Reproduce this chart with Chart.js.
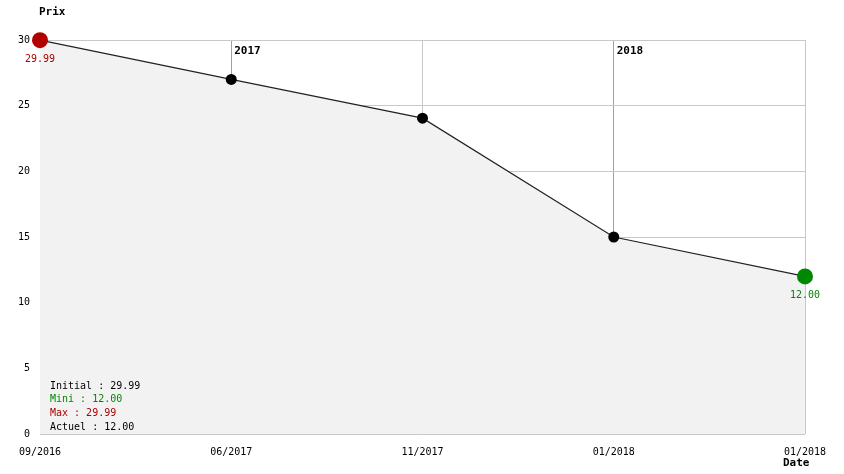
<!DOCTYPE html>
<html>
<head>
<meta charset="utf-8">
<script src="https://cdn.jsdelivr.net/npm/chart.js@4/dist/chart.umd.min.js"></script>
<style>
  html, body { margin: 0; padding: 0; background: #fff; }
  #wrap { width: 844px; height: 474px; }
</style>
</head>
<body>
<div id="wrap"><canvas id="myChart"></canvas></div>
<script>
// price history
const dates = ['09/2016', '06/2017', '11/2017', '01/2018', '01/2018'];
const prices = [29.99, 27, 24.05, 15, 12.00];
const yearMarks = [null, '2017', null, '2018', null]; // year change markers
const yTicks = [0, 5, 10, 15, 20, 25, 30];
const summary = [
  ['Initial : 29.99', '#000000'],
  ['Mini : 12.00', '#008800'],
  ['Max : 29.99', '#b00000'],
  ['Actuel : 12.00', '#000000']
];

const FONT = '"DejaVu Sans Mono", "Liberation Mono", monospace';
const lastIdx = prices.length - 1;

// extra texts: axis titles, year labels, point values, summary box
const extras = {
  id: 'extras',
  afterDatasetsDraw(chart) {
    const c = chart.ctx;
    const xs = chart.scales.x, ys = chart.scales.y;
    const area = chart.chartArea;
    c.save();
    c.textBaseline = 'middle';

    c.font = 'bold 11px ' + FONT;
    c.fillStyle = '#000';
    c.textAlign = 'left';
    c.fillText('Prix', 39, 12);
    c.fillText('Date', 783, 463);

    yearMarks.forEach(function (y, i) {
      if (!y) return;
      c.fillText(y, xs.getPixelForValue(i) + 3, area.top + 11);
    });

    c.font = '10px ' + FONT;
    c.textAlign = 'center';
    c.fillStyle = '#b00000';
    c.fillText(prices[0].toFixed(2), xs.getPixelForValue(0), ys.getPixelForValue(prices[0]) + 19);
    c.fillStyle = '#008800';
    c.fillText(prices[lastIdx].toFixed(2), xs.getPixelForValue(lastIdx), ys.getPixelForValue(prices[lastIdx]) + 19);

    c.textAlign = 'left';
    summary.forEach(function (s, i) {
      c.fillStyle = s[1];
      c.fillText(s[0], area.left + 10, area.bottom - 48 + i * 13.7);
    });
    c.restore();
  }
};

const config = {
  type: 'line',
  data: {
    labels: dates,
    datasets: [{
      data: prices,
      borderColor: '#222222',
      borderWidth: 1.2,
      backgroundColor: '#f2f2f2',
      fill: 'origin',
      tension: 0,
      clip: false,
      pointRadius: function (ctx) { return (ctx.dataIndex === 0 || ctx.dataIndex === lastIdx) ? 8 : 5.5; },
      pointBackgroundColor: function (ctx) {
        if (ctx.dataIndex === 0) return '#b00000';
        if (ctx.dataIndex === lastIdx) return '#008800';
        return '#000000';
      },
      pointBorderWidth: 0,
      pointHoverRadius: 0
    }]
  },
  options: {
    responsive: true,
    maintainAspectRatio: false,
    animation: false,
    layout: { padding: { top: 40, right: 39, bottom: 0, left: 0 } },
    plugins: {
      legend: { display: false },
      tooltip: { enabled: false },
      filler: { drawTime: 'beforeDatasetsDraw' }
    },
    scales: {
      x: {
        offset: false,
        border: { display: false },
        grid: {
          z: -1,
          drawTicks: false,
          color: function (ctx) {
            if (ctx.index === 1 || ctx.index === 3) return '#a0a0a0';
            return '#c8c8c8';
          }
        },
        ticks: {
          padding: 12,
          maxRotation: 0,
          autoSkip: false,
          color: '#000',
          font: { family: FONT, size: 10 }
        },
        afterFit: function (s) { s.height = 40; }
      },
      y: {
        min: 0,
        max: 30,
        border: { display: false },
        grid: { z: -1, drawTicks: false, color: '#c8c8c8' },
        afterBuildTicks: function (s) { s.ticks = yTicks.map(function (v) { return { value: v }; }); },
        ticks: {
          padding: 10,
          color: '#000',
          font: { family: FONT, size: 10 }
        },
        afterFit: function (s) { s.width = 40; }
      }
    }
  },
  plugins: [extras]
};

const myChart = new Chart(document.getElementById('myChart'), config);
</script>
</body>
</html>
